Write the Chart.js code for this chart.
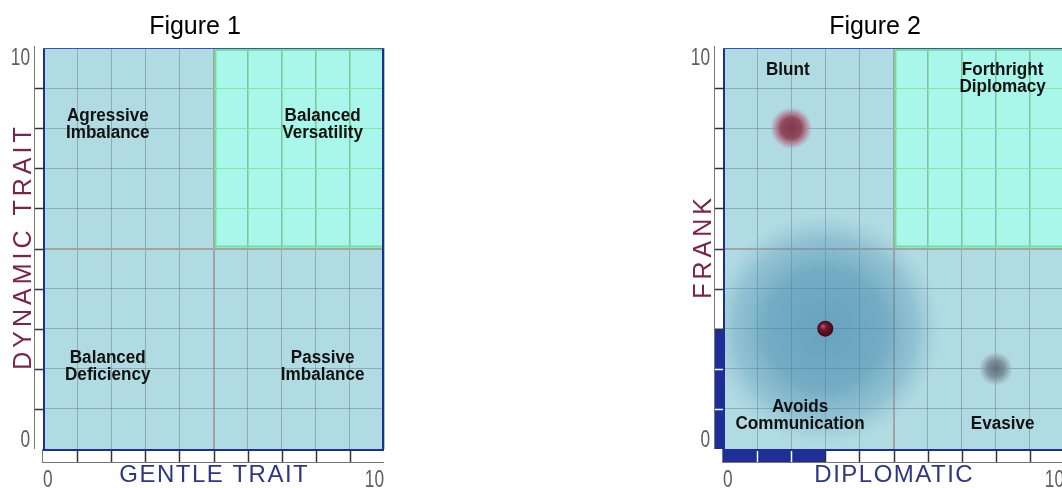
<!doctype html>
<html lang="en">
<head>
  <meta charset="utf-8">
  <title>Figure 1 / Figure 2</title>
  <script src="https://cdn.jsdelivr.net/npm/chart.js"></script>
  <style>
    html, body { margin: 0; padding: 0; background: #fff; overflow: hidden; width: 1062px; height: 488px; }
    .fig { position: absolute; top: 0; width: 400px; height: 488px; }
    #fig1 { left: 0; }
    #fig2 { left: 680px; }
  </style>
</head>
<body>
  <div class="fig" id="fig1"><canvas id="canvas_fig1" width="400" height="488"></canvas></div>
  <div class="fig" id="fig2"><canvas id="canvas_fig2" width="400" height="488"></canvas></div>

  <script type="text/javascript">

    // ---- data ----
    const fig_titles = ['Figure 1', 'Figure 2'];
    const x_titles = ['GENTLE TRAIT', 'DIPLOMATIC'];
    const y_titles = ['DYNAMIC TRAIT', 'FRANK'];
    const tick_labels = ['0', '10'];

    const fig1_quadrants = [['Agressive', 'Imbalance'], ['Balanced', 'Versatility'], ['Balanced', 'Deficiency'], ['Passive', 'Imbalance']];
    const fig1_quadrant_x = [1.9, 8.2, 1.9, 8.2];
    const fig1_quadrant_y = [8.08, 8.08, 2.06, 2.06];

    const fig2_quadrants = [['Blunt'], ['Forthright', 'Diplomacy'], ['Avoids', 'Communication'], ['Evasive']];
    const fig2_quadrant_x = [1.9, 8.2, 2.26, 8.2];
    const fig2_quadrant_y = [9.45, 9.24, 0.84, 0.62];

    const blunt_points = [{ x: 2, y: 8 }];
    const avoids_points = [{ x: 3, y: 3 }];
    const evasive_points = [{ x: 8, y: 2 }];

    const diplomatic_fill = 3;
    const frank_fill = 3;

    // ---- styles ----
    const font_family = "'Liberation Sans', Arial, Helvetica, sans-serif";
    const navy = '#1f2d96';

    Chart.defaults.font.family = font_family;

    function grid_color(c) { return c.tick && c.tick.value === 5 ? '#a3a3a3' : 'rgba(105,125,135,0.5)'; }
    function grid_width(c) { return c.tick && c.tick.value === 5 ? 2 : 1; }

    function radial(c, r, stops, dx, dy) {
      const chart = c.chart;
      const fallback = stops[1][1];
      if (!c.parsed || !chart.scales || !chart.scales.x) return fallback;
      const px = chart.scales.x.getPixelForValue(c.parsed.x);
      const py = chart.scales.y.getPixelForValue(c.parsed.y);
      if (!Number.isFinite(px) || !Number.isFinite(py)) return fallback;
      const g = chart.ctx.createRadialGradient(px + (dx || 0), py + (dy || 0), 0, px, py, r);
      stops.forEach(s => g.addColorStop(s[0], s[1]));
      return g;
    }

    function text_at(ctx, txt, x, y, o) {
      ctx.save();
      ctx.font = o.font;
      ctx.fillStyle = o.color;
      ctx.textAlign = o.align || 'center';
      ctx.textBaseline = 'middle';
      if (o.spacing) ctx.letterSpacing = o.spacing + 'px';
      ctx.translate(x, y);
      if (o.rotate) ctx.rotate(o.rotate);
      if (o.sx) ctx.scale(o.sx, 1);
      ctx.fillText(txt, o.spacing && (o.align || 'center') === 'center' ? o.spacing / 2 : 0, 0);
      ctx.restore();
    }

    function make_plugin(cfg) {
      return {
        id: 'quadrants',

        beforeDraw(chart) {
          const { ctx, chartArea: a, scales: { x, y } } = chart;
          const mx = x.getPixelForValue(5), my = y.getPixelForValue(5);
          ctx.save();
          ctx.fillStyle = '#b1dbe3';
          ctx.fillRect(a.left, a.top, a.width, a.height);
          ctx.fillStyle = '#a9f7ea';
          ctx.fillRect(mx, a.top, a.right - mx, my - a.top);
          ctx.restore();
        },

        beforeDatasetsDraw(chart) {
          const { ctx, chartArea: a, scales: { x, y } } = chart;
          const mx = x.getPixelForValue(5), my = y.getPixelForValue(5);
          ctx.save();
          ctx.strokeStyle = '#84e8a4';
          ctx.lineWidth = 1;
          ctx.beginPath();
          for (let v = 6; v < 10; v++) {
            const px = Math.round(x.getPixelForValue(v)) + 0.5;
            ctx.moveTo(px, a.top); ctx.lineTo(px, my);
            const py = Math.round(y.getPixelForValue(v)) + 0.5;
            ctx.moveTo(mx, py); ctx.lineTo(a.right, py);
          }
          ctx.stroke();
          ctx.strokeStyle = '#74e296';
          ctx.lineWidth = 2;
          ctx.beginPath();
          ctx.moveTo(mx + 2, a.top); ctx.lineTo(mx + 2, my - 2); ctx.lineTo(a.right, my - 2);
          ctx.moveTo(mx + 2, a.top + 2); ctx.lineTo(a.right, a.top + 2);
          ctx.stroke();
          ctx.restore();
        },

        afterDatasetsDraw(chart) {
          const { ctx, chartArea: a, scales: { x, y } } = chart;

          // quadrant names
          cfg.labels.forEach((lines, i) => {
            const cx = x.getPixelForValue(cfg.lx[i]);
            const cy = y.getPixelForValue(cfg.ly[i]);
            lines.forEach((t, j) => {
              const off = (j - (lines.length - 1) / 2) * 17;
              text_at(ctx, t, cx, cy + off, { font: 'bold 18px ' + font_family, color: '#111', sx: 0.95 });
            });
          });

          ctx.save();

          // rulers
          const rw = 9;
          ctx.fillStyle = '#fff';
          ctx.fillRect(a.left - rw, a.top, rw, a.height);
          ctx.fillRect(a.left, a.bottom, a.width, 13);
          ctx.fillStyle = navy;
          if (cfg.fillY) {
            const fy = y.getPixelForValue(cfg.fillY);
            ctx.fillRect(a.left - rw, fy, rw, a.bottom - fy);
          }
          if (cfg.fillX) {
            const fx = x.getPixelForValue(cfg.fillX);
            ctx.fillRect(a.left, a.bottom + 2, fx - a.left, 11);
          }
          ctx.lineWidth = 1.5;
          for (let v = 1; v < 10; v++) {
            const py = Math.round(y.getPixelForValue(v)) + 0.5;
            ctx.strokeStyle = cfg.fillY && v < cfg.fillY ? '#fff' : '#333';
            ctx.beginPath(); ctx.moveTo(a.left - rw, py); ctx.lineTo(a.left, py); ctx.stroke();
            const px = Math.round(x.getPixelForValue(v)) + 0.5;
            ctx.strokeStyle = cfg.fillX && v < cfg.fillX ? '#fff' : '#333';
            ctx.beginPath(); ctx.moveTo(px, a.bottom + 2); ctx.lineTo(px, a.bottom + 13); ctx.stroke();
          }
          ctx.strokeStyle = '#777';
          ctx.lineWidth = 1;
          ctx.beginPath();
          ctx.moveTo(a.left - rw + 0.5, a.top - 2); ctx.lineTo(a.left - rw + 0.5, a.bottom);
          ctx.moveTo(a.left - 1, a.bottom + 13.5); ctx.lineTo(a.right, a.bottom + 13.5);
          ctx.moveTo(a.left - 0.5, a.bottom); ctx.lineTo(a.left - 0.5, a.bottom + 13.5);
          ctx.stroke();

          // plot border
          ctx.strokeStyle = navy;
          ctx.lineWidth = 2;
          ctx.beginPath();
          ctx.moveTo(a.left + 1, a.top); ctx.lineTo(a.left + 1, a.bottom + 1); ctx.lineTo(a.right, a.bottom + 1);
          ctx.moveTo(a.right - 1, a.top); ctx.lineTo(a.right - 1, a.bottom + 1);
          ctx.stroke();
          ctx.strokeStyle = '#3b4fbf';
          ctx.lineWidth = 1;
          ctx.beginPath(); ctx.moveTo(a.left, a.top + 0.5); ctx.lineTo(a.right, a.top + 0.5); ctx.stroke();
          ctx.restore();

          // tick labels 0 / 10
          const tick_font = { font: '24px ' + font_family, color: '#5e5e5e', sx: 0.72 };
          text_at(ctx, tick_labels[1], a.left - 13, a.top + 10, Object.assign({ align: 'right' }, tick_font));
          text_at(ctx, tick_labels[0], a.left - 13, a.bottom - 9, Object.assign({ align: 'right' }, tick_font));
          text_at(ctx, tick_labels[0], a.left, a.bottom + 31, Object.assign({ align: 'left' }, tick_font));
          text_at(ctx, tick_labels[1], a.right, a.bottom + 31, Object.assign({ align: 'right' }, tick_font));

          // axis titles
          text_at(ctx, cfg.xTitle, (a.left + a.right) / 2, a.bottom + 26, { font: '24px ' + font_family, color: '#2c3883', spacing: 1.5 });
          text_at(ctx, cfg.yTitle, a.left - 19, (a.top + a.bottom) / 2, { font: '25px ' + font_family, color: '#7c2447', spacing: 4, rotate: -Math.PI / 2 });
        }
      };
    }

    function make_chart(canvas_id, idx, cfg, datasets) {
      return new Chart(document.getElementById(canvas_id), {
        type: 'scatter',
        data: { datasets: datasets },
        options: {
          responsive: false,
          animation: false,
          events: [],
          layout: { autoPadding: false, padding: { left: 6, right: 16, top: 0, bottom: 0 } },
          plugins: {
            legend: { display: false },
            tooltip: { enabled: false },
            title: {
              display: true, text: fig_titles[idx], color: '#000',
              font: { size: 25, weight: 'normal', lineHeight: 1.2 },
              padding: { top: 12, bottom: 6 }
            }
          },
          scales: {
            x: {
              type: 'linear', min: 0, max: 10,
              ticks: { stepSize: 1, display: false },
              grid: { color: grid_color, lineWidth: grid_width, drawTicks: false },
              border: { display: false },
              afterFit: s => { s.height = 39; }
            },
            y: {
              type: 'linear', min: 0, max: 10,
              ticks: { stepSize: 1, display: false },
              grid: { color: grid_color, lineWidth: grid_width, drawTicks: false },
              border: { display: false },
              afterFit: s => { s.width = 37; }
            }
          }
        },
        plugins: [make_plugin(cfg)]
      });
    }

    make_chart('canvas_fig1', 0, {
      labels: fig1_quadrants, lx: fig1_quadrant_x, ly: fig1_quadrant_y,
      xTitle: x_titles[0], yTitle: y_titles[0]
    }, []);

    // higher "order" is drawn first (underneath)
    make_chart('canvas_fig2', 1, {
      labels: fig2_quadrants, lx: fig2_quadrant_x, ly: fig2_quadrant_y,
      xTitle: x_titles[1], yTitle: y_titles[1],
      fillX: diplomatic_fill, fillY: frank_fill
    }, [
      {
        // wide halo round the avoids point
        data: avoids_points, order: 4, pointRadius: 116, borderWidth: 0, clip: 0,
        backgroundColor: c => radial(c, 116, [[0, 'rgba(55,125,165,0.6)'], [0.5, 'rgba(65,132,170,0.55)'], [0.78, 'rgba(85,148,180,0.35)'], [1, 'rgba(120,170,195,0)']])
      },
      {
        data: blunt_points, order: 2, pointRadius: 21, borderWidth: 0, clip: 0,
        backgroundColor: c => radial(c, 21, [[0, '#7e3a4a'], [0.5, '#8f4b5b'], [0.75, 'rgba(180,115,135,0.7)'], [1, 'rgba(170,140,160,0)']])
      },
      {
        data: evasive_points, order: 2, pointRadius: 17, borderWidth: 0, clip: 0,
        backgroundColor: c => radial(c, 17, [[0, '#5d727b'], [0.5, 'rgba(115,132,142,0.85)'], [0.8, 'rgba(140,160,170,0.5)'], [1, 'rgba(150,170,180,0)']])
      },
      {
        data: avoids_points, order: 1, pointRadius: 8, borderWidth: 0, clip: 0,
        backgroundColor: c => radial(c, 8, [[0, '#b86272'], [0.4, '#721a2e'], [1, '#3e0616']], -3, -3)
      }
    ]);

  </script>
</body>
</html>
